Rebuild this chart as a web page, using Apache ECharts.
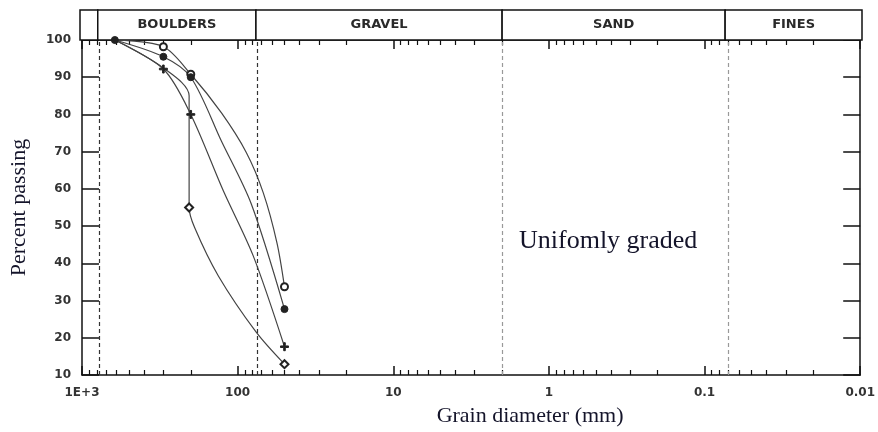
<!DOCTYPE html>
<html>
<head>
<meta charset="utf-8">
<script src="https://cdn.jsdelivr.net/npm/echarts@6/dist/echarts.min.js"></script>
<style>
  html, body { margin: 0; padding: 0; background: #fff; }
  #chart { width: 878px; height: 432px; }
</style>
</head>
<body>
<div id="chart"></div>
<script>
// Grain size axis (mm), drawn right-to-left
const diameterTicks = [1000, 100, 10, 1, 0.1, 0.01];
const diameterLabels = ["1E+3", "100", "10", "1", "0.1", "0.01"];

// Soil class bands shown in the header strip: [from mm, to mm, name]
const zones = [
  [1000, 770, ""],
  [770, 75, "BOULDERS"],
  [75, 2, "GRAVEL"],
  [2, 0.075, "SAND"],
  [0.075, 0.01, "FINES"],
];
const boundaries = [770, 75, 2, 0.075];

// Grading curves: [diameter mm, percent passing, 1 = measured point]
const curveOpenCircle = [
  [615, 100, 0], [300, 98.2, 1], [200, 90.8, 1], [127, 80.4, 0], [88, 69.8, 0],
  [68.5, 59, 0], [55.9, 45.5, 0], [50, 33.7, 1],
];
const curveFilled = [
  [615, 100, 1], [300, 95.5, 1], [200, 90, 1], [127, 72.8, 0], [81.8, 56, 0],
  [50, 27.7, 1],
];
const curveCross = [
  [615, 100, 0], [300, 92.2, 1], [200, 80, 1], [123.6, 59.5, 0], [79.4, 42, 0],
  [50, 17.6, 1],
];
const curveDiamond = [
  [615, 100, 0], [300, 92.5, 0], [205, 85, 0], [205, 55, 1], [189, 49.6, 0],
  [133, 36.6, 0], [76, 21.5, 0], [50, 12.9, 1],
];

const percentMin = 10;
const percentMax = 100;
const percentStep = 10;

// 2..9 ticks of each decade for the log paper look
const minorTicks = [];
for (let e = -2; e < 3; e++) {
  for (let m = 2; m <= 9; m++) minorTicks.push(+(m * Math.pow(10, e)).toPrecision(3));
}

const ink = "#2a2a2a";
const crossPath = "path://M4,0H6V4H10V6H6V10H4V6H0V4H4Z";

function toSeriesData(points) {
  return points.map(([d, p, measured]) => (measured ? [d, p] : { value: [d, p], symbol: "none" }));
}

function xAxisBase(extra) {
  return Object.assign(
    {
      type: "log",
      logBase: 10,
      min: 0.01,
      max: 1000,
      inverse: true,
      gridIndex: 0,
      splitLine: { show: false },
      axisLine: { show: true, lineStyle: { color: "#111", width: 1.5 } },
      axisLabel: { show: false },
    },
    extra
  );
}

const chart = echarts.init(document.getElementById("chart"), null, { renderer: "canvas" });

const lineSeries = (name, data, symbol, size) => ({
  name,
  type: "line",
  xAxisIndex: 0,
  yAxisIndex: 0,
  data: toSeriesData(data),
  smooth: 0.3,
  symbol,
  symbolSize: size,
  lineStyle: { color: "#444", width: 1.2 },
  itemStyle: { color: "#222", borderColor: "#222", borderWidth: 1 },
  z: 5,
});

const series = [
  lineSeries("open circle", curveOpenCircle, "emptyCircle", 7),
  lineSeries("filled", curveFilled, "circle", 7),
  lineSeries("cross", curveCross, crossPath, 8),
  lineSeries("diamond", curveDiamond, "emptyDiamond", 8),
  {
    type: "line",
    xAxisIndex: 0,
    yAxisIndex: 0,
    data: [],
    markLine: {
      silent: true,
      symbol: "none",
      label: { show: false },
      data: boundaries.map((b, i) => ({
        xAxis: b,
        lineStyle: { type: [4, 3], width: 1.2, color: i < 2 ? "#333" : "#999" },
      })),
    },
  },
  {
    type: "custom",
    xAxisIndex: 4,
    yAxisIndex: 2,
    data: zones.map((z) => [z[0], z[1]]),
    renderItem(params, api) {
      const p1 = api.coord([api.value(0), 0]);
      const p2 = api.coord([api.value(1), 1]);
      const x = Math.min(p1[0], p2[0]);
      const w = Math.abs(p2[0] - p1[0]);
      const y = Math.min(p1[1], p2[1]);
      const h = Math.abs(p1[1] - p2[1]);
      return {
        type: "group",
        children: [
          {
            type: "rect",
            shape: { x, y, width: w, height: h },
            style: { fill: "#fff", stroke: "#111", lineWidth: 1.5 },
          },
          {
            type: "text",
            style: {
              x: x + w / 2,
              y: y + h / 2,
              text: zones[params.dataIndex][2],
              align: "center",
              verticalAlign: "middle",
              fill: ink,
              font: "bold 13px 'DejaVu Sans'",
            },
          },
        ],
      };
    },
  },
];

const option = {
  animation: false,
  backgroundColor: "#fff",
  grid: [
    { left: 80, right: 16, top: 40, bottom: 47 },
    { left: 80, right: 16, top: 10, height: 30 },
  ],
  xAxis: [
    xAxisBase({
      position: "bottom",
      name: "Grain diameter (mm)",
      nameLocation: "middle",
      nameGap: 30,
      nameTextStyle: {
        fontFamily: "Liberation Serif",
        fontSize: 22,
        color: "#14142a",
        padding: [0, 0, 0, 118],
      },
      axisTick: { show: true, inside: true, length: 9, customValues: diameterTicks, lineStyle: { color: "#111", width: 1.5 } },
      axisLabel: {
        show: true,
        customValues: diameterTicks,
        margin: 12,
        fontFamily: "DejaVu Sans",
        fontWeight: "bold",
        fontSize: 12,
        color: "#333",
        formatter: (v) => {
          let best = 0;
          diameterTicks.forEach((t, i) => {
            if (Math.abs(Math.log10(t) - Math.log10(v)) < Math.abs(Math.log10(diameterTicks[best]) - Math.log10(v))) best = i;
          });
          return diameterLabels[best];
        },
      },
    }),
    xAxisBase({
      position: "bottom",
      axisLine: { show: false },
      axisTick: { show: true, inside: true, length: 5, customValues: minorTicks, lineStyle: { color: "#111", width: 1.2 } },
    }),
    xAxisBase({
      position: "top",
      axisTick: { show: true, inside: true, length: 9, customValues: diameterTicks, lineStyle: { color: "#111", width: 1.5 } },
    }),
    xAxisBase({
      position: "top",
      axisLine: { show: false },
      axisTick: { show: true, inside: true, length: 5, customValues: minorTicks, lineStyle: { color: "#111", width: 1.2 } },
    }),
    {
      type: "log",
      logBase: 10,
      min: 0.01,
      max: 1000,
      inverse: true,
      gridIndex: 1,
      show: false,
    },
  ],
  yAxis: [
    {
      type: "value",
      gridIndex: 0,
      min: percentMin,
      max: percentMax,
      interval: percentStep,
      position: "left",
      name: "Percent passing",
      nameLocation: "middle",
      nameGap: 52,
      nameTextStyle: { fontFamily: "Liberation Serif", fontSize: 22, color: "#14142a" },
      splitLine: { show: false },
      axisLine: { show: true, lineStyle: { color: "#111", width: 1.5 } },
      axisTick: { show: true, inside: true, length: 17, lineStyle: { color: "#111", width: 1.5 } },
      axisLabel: { margin: 11, fontFamily: "DejaVu Sans", fontWeight: "bold", fontSize: 12, color: "#333" },
    },
    {
      type: "value",
      gridIndex: 0,
      min: percentMin,
      max: percentMax,
      interval: percentStep,
      position: "right",
      splitLine: { show: false },
      axisLine: { show: true, lineStyle: { color: "#111", width: 1.5 } },
      axisTick: { show: true, inside: true, length: 17, lineStyle: { color: "#111", width: 1.5 } },
      axisLabel: { show: false },
    },
    { type: "value", gridIndex: 1, min: 0, max: 1, show: false },
  ],
  graphic: [
    {
      type: "text",
      left: 519,
      top: 228,
      style: {
        text: "Unifomly graded",
        font: "26px 'Liberation Serif'",
        fill: "#14142a",
      },
    },
  ],
  series,
};

chart.setOption(option);
</script>
</body>
</html>
